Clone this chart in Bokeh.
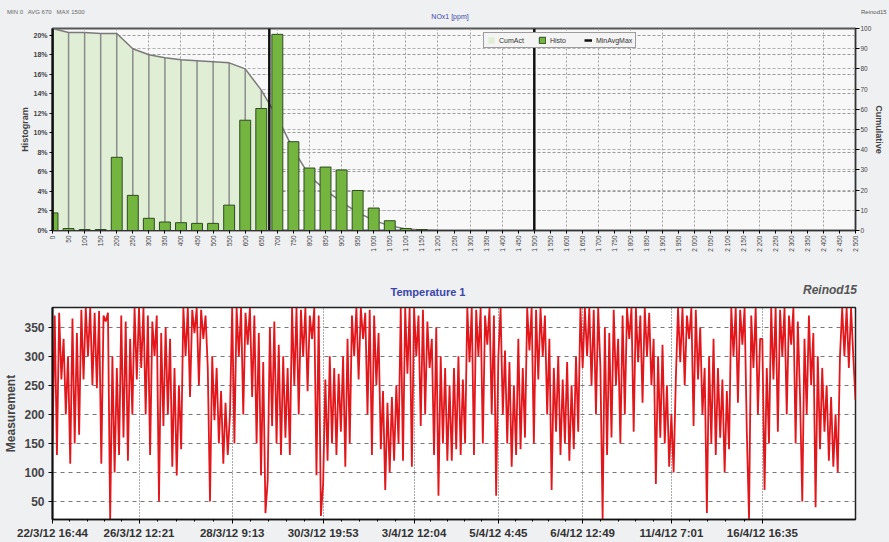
import numpy as np
from bokeh.plotting import figure
from bokeh.models import (Range1d, LinearAxis, FixedTicker, Grid, Div,
                          Legend, LegendItem, PrintfTickFormatter)
from bokeh.layouts import column
from bokeh.embed import file_html
from bokeh.resources import INLINE

# ---------------- data: NOx1 histogram ----------------
bins = [0, 50, 100, 150, 200, 250, 300, 350, 400, 450, 500, 550, 600, 650, 700,
        750, 800, 850, 900, 950, 1000, 1050, 1100, 1150, 1200]
histo = [1.8, 0.2, 0.1, 0.1, 7.5, 3.6, 1.25, 0.87, 0.8, 0.73, 0.73, 2.6, 11.3, 12.5, 20.1,
         9.1, 6.4, 6.5, 6.2, 4.1, 2.3, 1.0, 0.2, 0.1, 0.0]
cum_act = [100, 98, 98, 97.5, 97.5, 90, 87, 85.5, 84.5, 84, 83.5, 83, 80, 69.5, 56,
           40, 27, 20, 14, 9, 5, 2.3, 0.8, 0.3, 0]
min_avg_max = [0, 675, 1500]
x_ticks_top = list(range(0, 2501, 50))
hist_ticks = [0, 2, 4, 6, 8, 10, 12, 14, 16, 18, 20]
cum_ticks = [0, 10, 20, 30, 40, 50, 60, 70, 80, 90, 100]

# ---------------- data: Temperature 1 ----------------
temperature = [
    150, 370, 130, 375, 260, 330, 200, 300, 115, 365, 150, 340, 165, 380, 260, 383, 300, 383, 250, 375,
    245, 378, 115, 370, 360, 375, 20, 300, 100, 280, 130, 370, 160, 360, 120, 330, 200, 383, 260, 383,
    280, 383, 200, 370, 130, 360, 300, 370, 50, 340, 180, 350, 200, 330, 110, 280, 95, 250, 140, 383,
    300, 383, 230, 380, 340, 383, 250, 380, 330, 370, 280, 50, 300, 190, 280, 150, 240, 115, 220, 130,
    200, 383, 150, 383, 300, 383, 200, 375, 320, 383, 230, 370, 150, 340, 95, 290, 30, 85, 350, 180,
    360, 150, 320, 130, 300, 160, 280, 130, 383, 250, 383, 200, 380, 300, 383, 240, 370, 330, 383, 95,
    370, 25, 80, 260, 120, 300, 150, 280, 130, 270, 170, 300, 110, 330, 150, 370, 300, 383, 260, 383,
    330, 375, 200, 380, 130, 370, 250, 340, 140, 240, 70, 220, 100, 230, 120, 250, 150, 383, 120, 383,
    270, 383, 110, 383, 300, 370, 180, 380, 200, 360, 280, 330, 130, 350, 60, 300, 150, 280, 120, 250,
    120, 280, 140, 300, 130, 260, 150, 383, 290, 383, 130, 380, 300, 383, 150, 370, 320, 383, 200, 370,
    60, 300, 383, 200, 310, 150, 290, 110, 250, 130, 330, 140, 280, 160, 383, 310, 383, 150, 380, 260,
    383, 300, 370, 200, 330, 70, 280, 170, 300, 130, 260, 150, 290, 120, 250, 140, 300, 170, 383, 280,
    383, 300, 383, 250, 380, 200, 383, 280, 20, 350, 130, 340, 160, 380, 250, 330, 150, 370, 200, 383,
    330, 383, 170, 383, 290, 370, 220, 383, 300, 375, 250, 330, 80, 300, 160, 320, 150, 250, 110, 200,
    100, 260, 383, 290, 383, 250, 370, 330, 383, 180, 380, 260, 350, 200, 280, 30, 300, 150, 330, 130,
    280, 160, 260, 100, 240, 140, 383, 300, 383, 220, 380, 320, 383, 170, 20, 370, 280, 383, 200, 330,
    330, 70, 280, 150, 383, 260, 383, 170, 380, 300, 383, 200, 370, 320, 383, 150, 360, 230, 50, 330,
    200, 370, 250, 340, 40, 300, 140, 280, 170, 250, 120, 230, 110, 200, 100, 300, 383, 300, 383, 280,
    383, 300, 225]
time_tick_pos = [0, 39, 81, 122, 163, 201, 239, 279, 320]
time_tick_labels = ["22/3/12 16:44", "26/3/12 12:21", "28/3/12 9:13", "30/3/12 19:53",
                    "3/4/12 12:04", "5/4/12 4:45", "6/4/12 12:49", "11/4/12 7:01", "16/4/12 16:35"]
temp_ticks = [50, 100, 150, 200, 250, 300, 350]

BG = "#eff0f2"
FONT = "Liberation Sans"
W = 889


def text_row(height, spans):
    parts = []
    for s in spans:
        parts.append(f'<span style="position:absolute;white-space:pre;line-height:1;{s[0]}">{s[1]}</span>')
    html = (f'<div style="position:relative;width:{W}px;height:{height}px;overflow:visible;'
            f'font-family:\'{FONT}\';">' + "".join(parts) + "</div>")
    return Div(text=html, width=W, height=height,
               styles={"background-color": BG, "overflow": "visible", "margin": "0", "padding": "0"})


# ================= header row of the top chart =================
d1 = text_row(22, [
    ("left:7px;top:9px;font-size:6px;color:#666666;", "MIN 0   AVG 670   MAX 1500"),
    ("left:450px;top:13px;font-size:7px;color:#3a46a8;transform:translateX(-50%);", "NOx1 [ppm]"),
    ("left:861px;top:9px;font-size:6px;color:#555555;", "Reinod15"),
])

# ================= top chart =================
p = figure(width=W, height=248, output_backend="svg", toolbar_location=None,
           x_range=Range1d(0, 2500), y_range=Range1d(0, 20.7),
           min_border_left=52, min_border_right=34, min_border_top=6, min_border_bottom=40)
p.background_fill_color = "#f8f8f8"
p.border_fill_color = BG
p.outline_line_color = "#555555"
p.outline_line_width = 2
p.extra_y_ranges = {"cum": Range1d(0, 100)}

p.xgrid.ticker = FixedTicker(ticks=list(range(0, 2501, 100)))
p.xgrid.grid_line_color = "#a0a0a0"
p.xgrid.grid_line_dash = "2 2"
p.ygrid.ticker = FixedTicker(ticks=hist_ticks)
p.ygrid.grid_line_color = "#9a9a9a"
p.ygrid.grid_line_dash = "3 2"
g2 = Grid(dimension=1, ticker=FixedTicker(ticks=cum_ticks), y_range_name="cum",
          grid_line_color="#b0b0b0", grid_line_dash="3 2")
p.add_layout(g2)

n_fill = bins.index(700) + 1
r_cum_fill = p.varea(x=bins[:n_fill], y1=[0] * n_fill, y2=cum_act[:n_fill], y_range_name="cum",
                     fill_color="#e0eed6")
p.segment(x0=bins[1:n_fill - 1], y0=[0] * (n_fill - 2), x1=bins[1:n_fill - 1], y1=cum_act[1:n_fill - 1],
          y_range_name="cum", line_color="#8c8c8c", line_width=1.5)
p.line(bins, cum_act, y_range_name="cum", line_color="#7a7a7a", line_width=1.5)
r_hist = p.vbar(x=bins, top=histo, width=34, fill_color="#74b53f", line_color="#2f4a22", line_width=1)
r_mam = p.segment(x0=min_avg_max, y0=[0] * 3, x1=min_avg_max, y1=[100] * 3, y_range_name="cum",
                  line_color="#111111", line_width=2.5)

ax = p.xaxis[0]
ax.ticker = FixedTicker(ticks=x_ticks_top)
ax.major_label_overrides = {v: (f"{v:,}".replace(",", " ")) for v in x_ticks_top}
ax.major_label_orientation = np.pi / 2
ax.major_label_text_font_size = "6.5px"
ax.major_label_text_color = "#444444"
ax.major_label_text_font = FONT
ax.major_tick_out = 3
ax.major_tick_in = 0
ax.minor_tick_out = 0
ax.major_label_standoff = 2
ax.axis_line_color = "#333333"

ay = p.yaxis[0]
ay.ticker = FixedTicker(ticks=hist_ticks)
ay.formatter = PrintfTickFormatter(format="%d%%")
ay.axis_label = "Histogram"
ay.axis_label_text_font_size = "9px"
ay.axis_label_text_font_style = "bold"
ay.axis_label_text_font = FONT
ay.axis_label_standoff = 0
ay.major_label_text_font_size = "7px"
ay.major_label_text_font_style = "bold"
ay.major_label_text_color = "#444444"
ay.major_label_text_font = FONT
ay.major_tick_out = 3
ay.major_tick_in = 0
ay.minor_tick_out = 0
ay.major_label_standoff = 2
ay.axis_line_color = "#111111"
ay.axis_line_width = 2

ar = LinearAxis(y_range_name="cum", ticker=FixedTicker(ticks=cum_ticks), axis_label="Cumulative")
ar.axis_label_text_font_size = "9px"
ar.axis_label_text_font_style = "bold"
ar.axis_label_text_font = FONT
ar.axis_label_standoff = 0
ar.major_label_text_font_size = "6.5px"
ar.major_label_text_color = "#444444"
ar.major_label_text_font = FONT
ar.major_tick_out = 4
ar.major_tick_in = 0
ar.minor_tick_out = 0
ar.major_label_standoff = 1
ar.axis_line_color = "#333333"
p.add_layout(ar, "right")

legend = Legend(items=[LegendItem(label="CumAct", renderers=[r_cum_fill]),
                       LegendItem(label="Histo", renderers=[r_hist]),
                       LegendItem(label="MinAvgMax", renderers=[r_mam])],
                orientation="horizontal", location=(431, 182))
legend.label_text_font_size = "7px"
legend.label_text_font = FONT
legend.label_text_color = "#333333"
legend.glyph_width = 8
legend.glyph_height = 8
legend.label_standoff = 4
legend.spacing = 14
legend.padding = 3
legend.margin = 0
legend.label_height = 8
legend.border_line_color = "#444444"
legend.border_line_width = 1.5
legend.background_fill_color = "#f4f4f4"
legend.background_fill_alpha = 1
p.add_layout(legend)

# ================= header row of the bottom chart =================
d2 = text_row(30, [
    ("left:428px;top:17px;font-size:11px;font-weight:bold;color:#3a46a8;transform:translateX(-50%);",
     "Temperature 1"),
    ("right:32px;top:14px;font-size:12px;font-weight:bold;font-style:italic;color:#555555;", "Reinod15"),
])

# ================= bottom chart =================
xs = list(range(len(temperature)))
q = figure(width=W, height=242, output_backend="svg", toolbar_location=None,
           x_range=Range1d(0, len(temperature) - 1), y_range=Range1d(19, 384),
           min_border_left=52, min_border_right=31, min_border_top=7, min_border_bottom=23)
q.background_fill_color = "#ffffff"
q.border_fill_color = BG
q.outline_line_color = "#222222"
q.outline_line_width = 1.5

q.line(xs, temperature, line_color="#e3161b", line_width=1.8)

q.xgrid.ticker = FixedTicker(ticks=time_tick_pos)
q.xgrid.grid_line_color = "#555555"
q.xgrid.grid_line_dash = "1 2"
q.ygrid.ticker = FixedTicker(ticks=temp_ticks)
q.ygrid.grid_line_color = "#777777"
q.ygrid.grid_line_dash = "4 4"

bx = q.xaxis[0]
minor = []
for a, b in zip(time_tick_pos[:-1], time_tick_pos[1:]):
    for k in range(1, 5):
        minor.append(a + (b - a) * k / 5)
bx.ticker = FixedTicker(ticks=time_tick_pos, minor_ticks=minor)
bx.major_label_overrides = dict(zip(time_tick_pos, time_tick_labels))
bx.major_label_text_font_size = "11.5px"
bx.major_label_text_font_style = "bold"
bx.major_label_text_color = "#333333"
bx.major_label_text_font = FONT
bx.major_tick_out = 4
bx.major_tick_in = 0
bx.minor_tick_out = 2
bx.minor_tick_in = 0
bx.major_label_standoff = 3
bx.axis_line_color = "#111111"
bx.axis_line_width = 1.5

by = q.yaxis[0]
by.ticker = FixedTicker(ticks=temp_ticks)
by.axis_label = "Measurement"
by.axis_label_text_font_size = "12px"
by.axis_label_text_font_style = "bold"
by.axis_label_text_font = FONT
by.axis_label_standoff = 3
by.major_label_text_font_size = "12px"
by.major_label_text_font_style = "bold"
by.major_label_text_color = "#444444"
by.major_label_text_font = FONT
by.major_tick_out = 4
by.major_tick_in = 0
by.minor_tick_out = 0
by.major_label_standoff = 4
by.axis_line_color = "#111111"
by.axis_line_width = 2

layout = column(d1, p, d2, q, spacing=0)
layout.styles = {"background-color": BG}
open("out.html", "w").write(file_html(layout, INLINE))
